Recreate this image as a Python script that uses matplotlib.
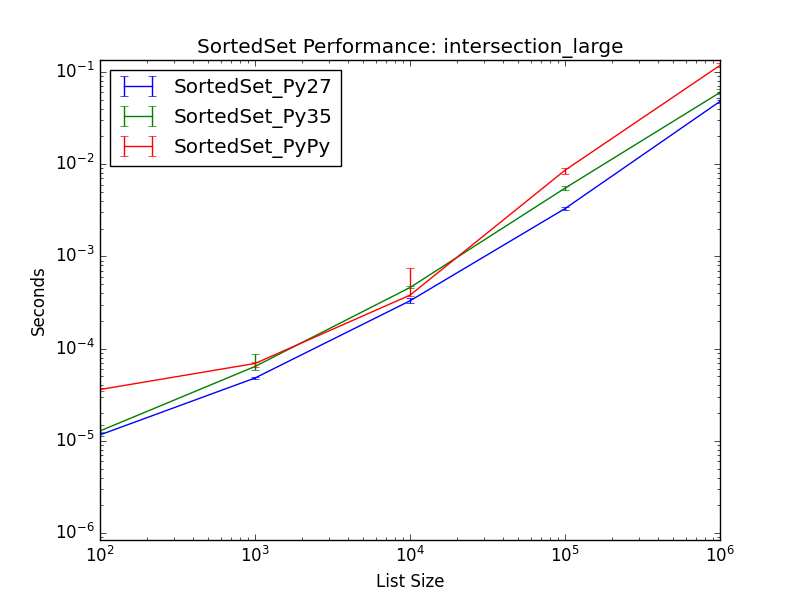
import matplotlib
matplotlib.use("Agg")
import matplotlib.pyplot as plt

plt.style.use("classic")

sizes = [1e2, 1e3, 1e4, 1e5, 1e6]

py27 = [1.16e-5, 4.8e-5, 3.3e-4, 3.3e-3, 0.048]
py27_lo = [0.04e-5, 0.15e-5, 0.2e-4, 0.1e-3, 0.002]
py27_hi = [0.05e-5, 0.15e-5, 0.2e-4, 0.1e-3, 0.004]

py35 = [1.28e-5, 6.4e-5, 4.6e-4, 5.5e-3, 0.060]
py35_lo = [0.02e-5, 0.6e-5, 0.1e-4, 0.2e-3, 0.002]
py35_hi = [0.22e-5, 2.4e-5, 0.2e-4, 0.3e-3, 0.005]

pypy = [3.6e-5, 6.9e-5, 3.8e-4, 8.6e-3, 0.118]
pypy_lo = [0.1e-5, 0.6e-5, 0.05e-4, 0.8e-3, 0.004]
pypy_hi = [0.1e-5, 0.3e-5, 3.6e-4, 0.6e-3, 0.008]

series = [
    ("SortedSet_Py27", py27, py27_lo, py27_hi, "b"),
    ("SortedSet_Py35", py35, py35_lo, py35_hi, "g"),
    ("SortedSet_PyPy", pypy, pypy_lo, pypy_hi, "r"),
]

fig, ax = plt.subplots(figsize=(8, 6), dpi=100)
fig.patch.set_facecolor("white")

for name, vals, lo, hi, col in series:
    ax.errorbar(sizes, vals, yerr=[lo, hi], color=col, ecolor=col,
                capsize=3, label=name)

ax.set_xscale("log")
ax.set_yscale("log")
ax.set_xlim(1e2, 1e6)
ax.set_ylim(8.4e-7, 0.135)

ax.set_title("SortedSet Performance: intersection_large")
ax.set_xlabel("List Size")
ax.set_ylabel("Seconds")
ax.legend(loc="upper left")

fig.savefig("out.png", dpi=100, facecolor="white")
